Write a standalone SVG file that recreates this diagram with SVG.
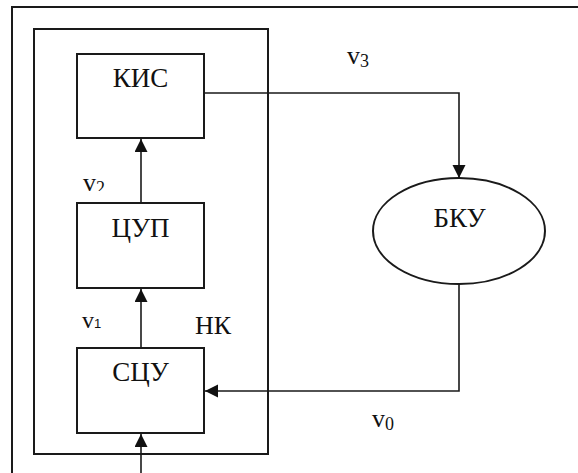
<svg xmlns="http://www.w3.org/2000/svg" width="578" height="473" viewBox="0 0 578 473">
<style>
.frame{fill:none;stroke:#1a1a1a;stroke-width:2}
.box{fill:#fff;stroke:#1a1a1a;stroke-width:2}
text{font-family:'Liberation Serif','DejaVu Serif','Times New Roman',serif;fill:#111}
.lbl{font-size:27px;text-anchor:middle}
.v{font-size:26px}
.conn{fill:none;stroke:#1a1a1a;stroke-width:1.6}
</style>
<defs>
<marker id="arr" markerUnits="userSpaceOnUse" markerWidth="14" markerHeight="14" refX="13" refY="6.5" orient="auto">
<path d="M0,0 L13,6.5 L0,13 z" fill="#111"/>
</marker>
<clipPath id="clipv2"><rect x="70" y="165" width="60" height="26"/></clipPath>
</defs>
<rect width="578" height="473" fill="#fff"/>
<g id="outer-frame"><rect class="frame" x="12" y="7" width="620" height="520"/></g>
<g id="nk">
<rect class="frame" x="34" y="29" width="234" height="425"/>
<text class="lbl" x="213" y="334" style="font-size:26px">НК</text>
</g>
<g id="kis"><rect class="box" x="77" y="54" width="127" height="84"/><text class="lbl" x="140.5" y="87">КИС</text></g>
<g id="tsup"><rect class="box" x="77" y="203" width="127" height="85"/><text class="lbl" x="140.5" y="237">ЦУП</text></g>
<g id="stsu"><rect class="box" x="77" y="348" width="127" height="85"/><text class="lbl" x="140.5" y="381">СЦУ</text></g>
<g id="bku"><ellipse cx="459" cy="231" rx="86" ry="53" fill="#fff" stroke="#1a1a1a" stroke-width="2"/><text class="lbl" x="459.5" y="227">БКУ</text></g>
<g id="connectors">
<path class="conn" d="M141,473 V434" marker-end="url(#arr)"/>
<path class="conn" d="M141,348 V289" marker-end="url(#arr)"/>
<path class="conn" d="M141,203 V139" marker-end="url(#arr)"/>
<path class="conn" d="M204,93 H459 V178" marker-end="url(#arr)"/>
<path class="conn" d="M459,284 V391 H205" marker-end="url(#arr)"/>
</g>
<g id="labels">
<text class="v" x="347" y="64">v<tspan style="font-size:18px" dy="3">3</tspan></text>
<text class="v" x="83" y="191" clip-path="url(#clipv2)">v<tspan style="font-size:18px" dy="3">2</tspan></text>
<text class="v" x="82" y="328" style="font-size:24px">v<tspan style="font-size:13px;font-family:'Liberation Sans',Arial,sans-serif">1</tspan></text>
<text class="v" x="372" y="427">v<tspan style="font-size:18px" dy="3">0</tspan></text>
</g>
</svg>
